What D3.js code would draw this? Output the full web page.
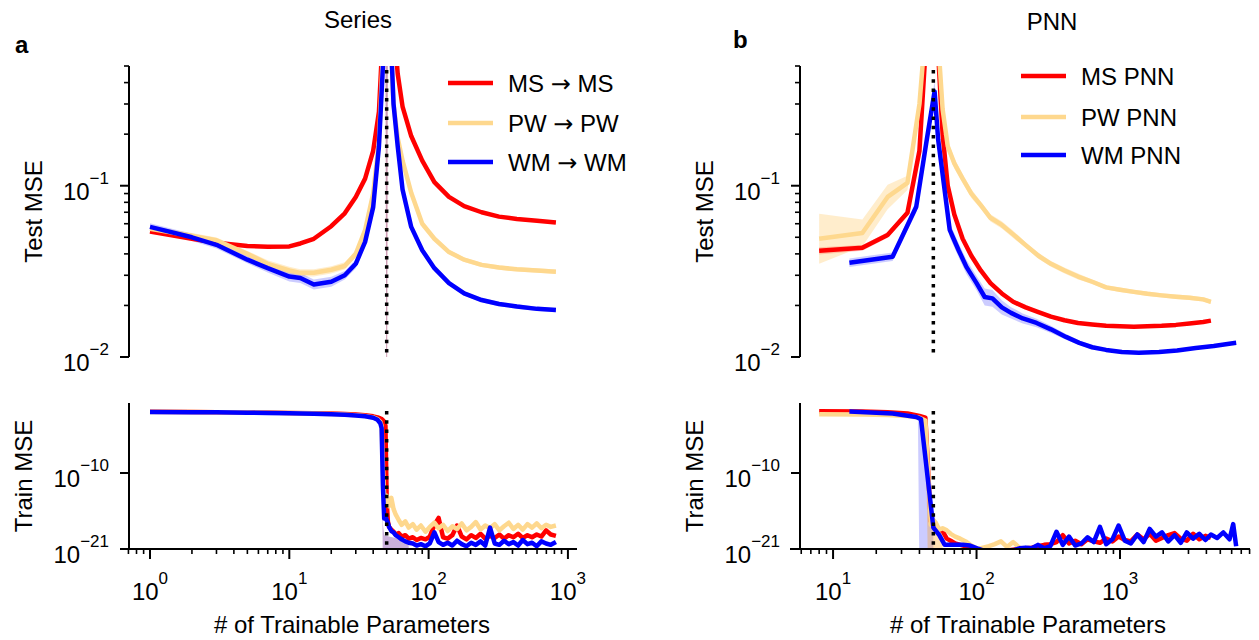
<!DOCTYPE html>
<html><head><meta charset="utf-8">
<script src="https://cdn.jsdelivr.net/npm/d3@7"></script>
<style>
body{margin:0;background:#fff}
svg{display:block}
text{font-family:"Liberation Sans",Arial,Helvetica,sans-serif;fill:#000}
</style>
</head><body>
<svg id="c" width="1259" height="640"></svg>
<script>
// ---------------- DATA ----------------
const colMS = "#ff0000", colPW = "#fed88e", colWM = "#0000ff";
const legendA = [["MS", "MS"], ["PW", "PW"], ["WM", "WM"]]; // "X → X"
const legendB = ["MS PNN", "PW PNN", "WM PNN"];
const titleA = "Series", titleB = "PNN";
const xTickExpA = [0, 1, 2, 3];
const xTickExpB = [1, 2, 3];
const yTestTickExp = [-1, -2];
const yTrainTickExp = [-10, -21];
const threshold = 50;

// Panel a, test MSE
const testXA = [1, 2, 3, 5, 7, 10, 12, 15, 20, 25, 30, 35, 40, 44, 47, 49, 50, 51, 53, 56, 60, 65, 75, 90, 110, 140, 180, 240, 320, 430, 600, 820];
const testMSA = [0.054, 0.049, 0.0465, 0.0445, 0.044, 0.0442, 0.046, 0.049, 0.058, 0.069, 0.086, 0.11, 0.16, 0.27, 0.8, 2.5, 6, 2.5, 1.5, 0.9, 0.45, 0.29, 0.195, 0.14, 0.105, 0.086, 0.076, 0.07, 0.066, 0.064, 0.0625, 0.061];
const testPWA = [0.056, 0.051, 0.048, 0.040, 0.035, 0.032, 0.031, 0.031, 0.0323, 0.034, 0.040, 0.055, 0.09, 0.18, 0.6, 2, 6, 2, 0.8, 0.3, 0.19, 0.14, 0.091, 0.06, 0.049, 0.041, 0.037, 0.0345, 0.0333, 0.0325, 0.032, 0.0315];
const testWMA = [0.0575, 0.050, 0.0452, 0.037, 0.033, 0.0295, 0.0289, 0.0265, 0.0275, 0.030, 0.035, 0.047, 0.075, 0.17, 0.5, 2, 6, 2, 0.9, 0.3, 0.17, 0.095, 0.0575, 0.042, 0.033, 0.027, 0.0235, 0.0215, 0.0204, 0.0197, 0.0191, 0.0188];
// multiplicative spread of the shaded band
const sprMSA = [1.02, 1.02, 1.02, 1.02, 1.02, 1.02, 1.02, 1.02, 1.02, 1.02, 1.02, 1.03, 1.04, 1.1, 1.3, 3, 10000, 3, 1.3, 1.1, 1.05, 1.03, 1.02, 1.02, 1.02, 1.02, 1.02, 1.02, 1.02, 1.02, 1.02, 1.02];
const sprPWA = [1.04, 1.04, 1.04, 1.04, 1.05, 1.05, 1.05, 1.05, 1.05, 1.05, 1.05, 1.06, 1.08, 1.1, 1.3, 3, 10000, 3, 1.3, 1.1, 1.06, 1.05, 1.04, 1.04, 1.03, 1.03, 1.03, 1.03, 1.03, 1.03, 1.03, 1.03];
const sprWMA = [1.05, 1.05, 1.05, 1.05, 1.06, 1.07, 1.07, 1.07, 1.07, 1.06, 1.06, 1.06, 1.08, 1.1, 1.3, 3, 10000, 3, 1.3, 1.1, 1.06, 1.05, 1.04, 1.04, 1.03, 1.03, 1.03, 1.03, 1.03, 1.03, 1.03, 1.03];

// Panel a, train MSE (log10 values)
const trainXA = [1, 2, 3, 5, 7, 10, 15, 20, 25, 30, 35, 40, 43, 45, 46, 47, 48, 49, 50, 51, 52, 54, 56, 58, 61, 64, 68, 72, 77, 82, 88, 95, 102, 110, 118, 127, 137, 148, 160, 173, 187, 202, 218, 236, 255, 276, 298, 322, 348, 376, 406, 439, 474, 512, 553, 597, 645, 697, 753, 820];
const trainMSA = [-1.15, -1.17, -1.2, -1.23, -1.26, -1.3, -1.35, -1.4, -1.47, -1.55, -1.65, -1.8, -1.95, -2.1, -2.2, -2.35, -2.6, -3.2, -14, -17.0, -17.8, -18.2, -18.5, -18.9, -18.7, -19.2, -19.0, -19.5, -19.3, -19.7, -19.4, -19.6, -19.2, -17.5, -16.5, -19.3, -19.5, -19.0, -17.6, -19.2, -19.6, -19.0, -19.4, -18.8, -19.5, -19.1, -19.4, -18.9, -19.5, -19.0, -19.3, -18.8, -19.4, -19.0, -19.3, -18.9, -19.2, -18.3, -18.9, -19.1];
const trainPWA = [-1.16, -1.19, -1.21, -1.25, -1.28, -1.33, -1.4, -1.47, -1.55, -1.64, -1.76, -1.95, -2.2, -2.6, -3.2, -9, -13.5, -14.5, -13.3, -13.8, -14.8, -13.6, -15.2, -16.0, -16.8, -17.5, -17.0, -17.9, -17.4, -18.2, -17.6, -18.5, -17.8, -17.2, -18.0, -17.5, -18.4, -17.7, -18.1, -17.3, -18.3, -17.8, -17.1, -18.2, -17.6, -18.0, -17.4, -18.3, -17.7, -17.2, -18.1, -17.5, -18.2, -17.4, -17.9, -17.3, -18.0, -17.5, -17.8, -17.6];
const trainWMA = [-1.17, -1.2, -1.22, -1.27, -1.3, -1.35, -1.42, -1.5, -1.58, -1.68, -1.8, -2.0, -2.3, -2.8, -3.5, -12, -16.6, -16.3, -16.8, -17.2, -17.8, -18.4, -18.6, -19.0, -19.3, -19.6, -19.9, -20.1, -20.2, -20.5, -20.3, -20.6, -20.2, -18.6, -20.0, -20.4, -20.1, -20.5, -19.8, -20.3, -20.6, -20.1, -20.4, -19.9, -20.5, -17.9, -20.2, -20.4, -19.8, -20.3, -20.0, -20.5, -19.7, -20.3, -20.1, -20.6, -19.9, -20.2, -20.4, -20.0];
const trainBandXA = [46, 47, 48, 52, 58, 64, 72];
const trainBandHiA = [-3.5, -17.5, -19.0, -19.2, -19.4, -19.6, -20.0];
const trainBandLoA = [-3.5, -25, -25, -25, -25, -25, -25];

// Panel b, test MSE
const testXB = [8, 16, 24, 33, 40, 44, 48, 51, 54, 58, 63, 70, 80, 92, 107, 125, 150, 180, 220, 270, 330, 410, 510, 640, 800, 1000, 1250, 1550, 1950, 2450, 3050, 3800, 4300];
const testMSB = [0.0417, 0.0434, 0.0516, 0.0695, 0.16, 0.6, 3, 3, 0.6, 0.2, 0.1, 0.068, 0.049, 0.039, 0.032, 0.027, 0.0235, 0.021, 0.0195, 0.0183, 0.0172, 0.0164, 0.0158, 0.0155, 0.0152, 0.0151, 0.015, 0.0151, 0.0152, 0.0154, 0.0157, 0.016, 0.0163];
const testPWB = [0.049, 0.053, 0.086, 0.104, 0.3, 0.8, 3, 2, 0.7, 0.28, 0.17, 0.135, 0.11, 0.09, 0.077, 0.065, 0.059, 0.052, 0.045, 0.039, 0.035, 0.032, 0.0295, 0.0275, 0.0255, 0.0247, 0.024, 0.0234, 0.0229, 0.0225, 0.0222, 0.0217, 0.021];
const sprMSB = [1.05, 1.04, 1.04, 1.04, 1.05, 1.1, 1.2, 1.2, 1.1, 1.05, 1.04, 1.03, 1.03, 1.03, 1.03, 1.03, 1.03, 1.03, 1.03, 1.02, 1.02, 1.02, 1.02, 1.02, 1.02, 1.02, 1.02, 1.02, 1.02, 1.02, 1.02, 1.02, 1.02];
const sprPWB = [1.4, 1.2, 1.18, 1.1, 1.1, 1.1, 1.2, 1.2, 1.1, 1.1, 1.08, 1.07, 1.06, 1.06, 1.05, 1.05, 1.05, 1.05, 1.04, 1.04, 1.04, 1.04, 1.04, 1.03, 1.03, 1.03, 1.03, 1.03, 1.03, 1.03, 1.03, 1.03, 1.03];
const testXWMB = [13, 26, 38, 45, 51, 54, 65, 75, 85, 100, 114, 129, 150, 174, 210, 262, 330, 420, 520, 640, 800, 1030, 1350, 1870, 2500, 3370, 4500, 6450];
const testWMB = [0.0355, 0.0385, 0.0754, 0.186, 0.355, 0.186, 0.0553, 0.042, 0.0336, 0.027, 0.0224, 0.022, 0.0195, 0.0181, 0.0168, 0.0158, 0.0145, 0.0131, 0.0121, 0.0114, 0.011, 0.0107, 0.0106, 0.0107, 0.0109, 0.0113, 0.0116, 0.0121];
const sprWMB = [1.06, 1.06, 1.08, 1.1, 1.15, 1.12, 1.1, 1.1, 1.1, 1.1, 1.12, 1.12, 1.1, 1.08, 1.07, 1.06, 1.05, 1.04, 1.03, 1.03, 1.02, 1.02, 1.02, 1.02, 1.02, 1.02, 1.02, 1.02];

// Panel b, train MSE (log10 values)
const trainXB = [8, 16, 24, 33, 40, 44, 48, 50, 52, 55, 58, 62, 66, 71, 77, 84, 92, 101, 111, 122, 134, 148, 163, 180, 199, 220, 243, 268, 296, 327, 361, 399, 441, 487, 538, 594, 656, 725, 801, 885, 978, 1080, 1190, 1320, 1460, 1610, 1780, 1960, 2170, 2400, 2650, 2920, 3230, 3570, 3940, 4300];
const trainMSB = [-1.06, -1.1, -1.2, -1.4, -1.75, -2.0, -17.0, -17.6, -17.9, -18.2, -18.4, -19.5, -19.8, -20.2, -20.4, -20.6, -20.8, -21.0, -21.2, -21.3, -21.3, -21.3, -21.2, -21.1, -21.0, -20.9, -20.8, -20.6, -20.4, -20.3, -20.0, -19.0, -20.2, -19.8, -20.3, -19.6, -19.9, -20.1, -19.5, -19.9, -19.2, -19.7, -19.9, -18.9, -19.6, -18.8, -19.8, -19.4, -19.0, -18.7, -19.5, -19.8, -18.8, -19.6, -19.1, -19.4];
const trainPWB = [-1.5, -1.52, -1.6, -1.75, -2.0, -2.4, -17.5, -16.8, -17.2, -18.2, -18.0, -18.3, -18.8, -19.2, -19.5, -19.9, -20.5, -21.0, -20.8, -20.6, -20.3, -19.9, -20.7, -20.0, -20.8, -21.1, -21.2, -21.2, -21.3, -21.3, -21.2, -21.3, -21.2, -21.3, -21.2, -21.3, -21.2, -21.3, -21.3, -21.2, -21.3, -21.2, -21.3, -21.3, -21.2, -21.3, -21.2, -21.3, -21.3, -21.2, -21.3, -21.2, -21.3, -21.3, -21.2, -21.3];
const trainXWMB = [13, 26, 38, 41, 50, 55, 60, 66, 72, 80, 90, 101, 111, 122, 134, 148, 163, 180, 199, 220, 243, 268, 296, 327, 361, 399, 441, 487, 538, 594, 656, 725, 801, 885, 978, 1080, 1190, 1320, 1460, 1610, 1780, 1960, 2170, 2400, 2650, 2920, 3230, 3570, 3940, 4300, 4750, 5250, 5800, 6150, 6450];
const trainWMB = [-1.1, -1.4, -1.9, -2.2, -17.9, -19.0, -20.4, -20.4, -20.4, -20.4, -20.5, -20.9, -21.2, -21.3, -21.3, -21.4, -21.3, -21.2, -20.9, -20.8, -20.9, -20.4, -20.9, -20.6, -18.5, -20.4, -19.2, -20.5, -20.2, -19.3, -20.0, -17.8, -20.3, -19.6, -17.6, -19.8, -20.2, -18.9, -20.0, -18.1, -19.2, -18.6, -19.9, -19.0, -20.1, -18.6, -19.5, -18.8, -19.7, -18.9, -19.4, -18.6, -19.6, -17.4, -20.6];
const bandWMXB = [39, 40, 44, 46, 48, 50];
const bandWMLoB = [-1.9, -25, -25, -25, -25, -25];
const bandWMHiB = [-1.9, -2.0, -7.8, -10.5, -14.3, -17.9];
const bandPWXB = [44, 46, 48, 50, 52, 55, 58];
const bandPWLoB = [-2.4, -25, -25, -25, -25, -25, -25];
const bandPWHiB = [-2.4, -12, -17.5, -16.8, -17.2, -18.2, -18.0];

// ---------------- DRAWING ----------------
const svg = d3.select("#c");
const defs = svg.append("defs");

const xA = d3.scaleLog().domain([0.609, 1162]).range([120, 577]);
const xB = d3.scaleLog().domain([5.01, 8054]).range([790, 1250]);
const yTest = d3.scaleLog().domain([0.01, 0.5]).range([357, 66]);
const yTrain = d3.scaleLog().domain([1e-21, 1.35]).range([549, 403]);
const spineA = 129, spineB = 800;
const LW = 4.5;

function clip(id, x, y, w, h) {
  defs.append("clipPath").attr("id", id).append("rect").attr("x", x).attr("y", y).attr("width", w).attr("height", h);
  return svg.append("g").attr("clip-path", `url(#${id})`);
}

function band(g, x, y, xs, lo, hi, color, op) {
  const pts = xs.map((d, i) => ({x: d, lo: lo[i], hi: hi[i]}));
  g.append("path").datum(pts)
    .attr("d", d3.area().x(d => x(d.x)).y0(d => y(d.lo)).y1(d => y(d.hi)))
    .attr("fill", color).attr("fill-opacity", op).attr("stroke", "none");
}
function line(g, x, y, xs, vs, color, w) {
  const pts = xs.map((d, i) => ({x: d, v: vs[i]}));
  g.append("path").datum(pts)
    .attr("d", d3.line().defined(d => d.v != null).x(d => x(d.x)).y(d => y(d.v)))
    .attr("fill", "none").attr("stroke", color).attr("stroke-width", w)
    .attr("stroke-linejoin", "round").attr("stroke-linecap", "butt");
}
const p10 = a => a.map(e => Math.pow(10, e));
const div = (v, s) => v.map((d, i) => d / s[i]);
const mul = (v, s) => v.map((d, i) => d * s[i]);

function supLabel(g, x, y, exp, anchor) {
  const t = g.append("text").attr("x", x).attr("y", y).attr("text-anchor", anchor)
    .style("font-size", "24px");
  t.append("tspan").text("10");
  t.append("tspan").attr("dy", -16).style("font-size", "17px")
    .text(exp < 0 ? "\u2212" + Math.abs(exp) : String(exp));
}

function yAxis(scale, xs, majorsExp, minors) {
  const g = svg.append("g");
  const [r0, r1] = scale.range();
  g.append("line").attr("x1", xs).attr("x2", xs).attr("y1", r0).attr("y2", r1)
    .attr("stroke", "#000").attr("stroke-width", 2);
  majorsExp.forEach(e => {
    const yy = scale(Math.pow(10, e));
    g.append("line").attr("x1", xs - 9).attr("x2", xs).attr("y1", yy).attr("y2", yy)
      .attr("stroke", "#000").attr("stroke-width", 2);
    supLabel(g, xs - 20, yy + 14, e, "end");
  });
  minors.forEach(v => {
    const yy = scale(v);
    g.append("line").attr("x1", xs - 5).attr("x2", xs).attr("y1", yy).attr("y2", yy)
      .attr("stroke", "#000").attr("stroke-width", 1.6);
  });
}
function xAxis(scale, yy, majorsExp) {
  const g = svg.append("g");
  const [r0, r1] = scale.range();
  const [d0, d1] = scale.domain();
  g.append("line").attr("x1", r0).attr("x2", r1).attr("y1", yy).attr("y2", yy)
    .attr("stroke", "#000").attr("stroke-width", 2);
  majorsExp.forEach(e => {
    const xx = scale(Math.pow(10, e));
    g.append("line").attr("x1", xx).attr("x2", xx).attr("y1", yy).attr("y2", yy + 10)
      .attr("stroke", "#000").attr("stroke-width", 2);
    supLabel(g, xx, 600, e, "middle");
  });
  for (let d = -1; d <= 4; d++) for (let k = 2; k <= 9; k++) {
    const v = k * Math.pow(10, d);
    if (v <= d0 || v >= d1) continue;
    const xx = scale(v);
    g.append("line").attr("x1", xx).attr("x2", xx).attr("y1", yy).attr("y2", yy + 5)
      .attr("stroke", "#000").attr("stroke-width", 1.6);
  }
}
function dotted(x, y0, y1) {
  svg.append("line").attr("x1", x).attr("x2", x).attr("y1", y0).attr("y2", y1)
    .attr("stroke", "#000").attr("stroke-width", 3.5).attr("stroke-dasharray", "3.5,5.8");
}

const testMinors = [0.02, 0.03, 0.04, 0.05, 0.06, 0.07, 0.08, 0.09, 0.2, 0.3, 0.4, 0.5];

// ---- panel a top ----
{
  const g = clip("ca1", 120, 66, 457, 291);
  band(g, xA, yTest, testXA, div(testMSA, sprMSA), mul(testMSA, sprMSA), colMS, 0.2);
  band(g, xA, yTest, testXA, div(testPWA, sprPWA), mul(testPWA, sprPWA), "#ffa500", 0.2);
  band(g, xA, yTest, testXA, div(testWMA, sprWMA), mul(testWMA, sprWMA), colWM, 0.2);
  line(g, xA, yTest, testXA, testMSA, colMS, LW);
  line(g, xA, yTest, testXA, testPWA, colPW, LW);
  line(g, xA, yTest, testXA, testWMA, colWM, LW);
  yAxis(yTest, spineA, yTestTickExp, testMinors);
  dotted(xA(threshold), 70, 357);
}
// ---- panel a bottom ----
{
  const g = clip("ca2", 120, 403, 457, 146);
  band(g, xA, yTrain, trainBandXA, p10(trainBandLoA), p10(trainBandHiA), "#8a4fb0", 0.45);
  line(g, xA, yTrain, trainXA, p10(trainMSA), colMS, LW);
  line(g, xA, yTrain, trainXA, p10(trainPWA), colPW, LW);
  line(g, xA, yTrain, trainXA, p10(trainWMA), colWM, LW);
  yAxis(yTrain, spineA, yTrainTickExp, []);
  xAxis(xA, 549, xTickExpA);
  dotted(xA(threshold), 411, 549);
}
// ---- panel b top ----
{
  const g = clip("cb1", 790, 66, 460, 291);
  band(g, xB, yTest, testXB, div(testMSB, sprMSB), mul(testMSB, sprMSB), colMS, 0.2);
  band(g, xB, yTest, testXB, div(testPWB, sprPWB), mul(testPWB, sprPWB), "#ffa500", 0.2);
  band(g, xB, yTest, testXWMB, div(testWMB, sprWMB), mul(testWMB, sprWMB), colWM, 0.2);
  line(g, xB, yTest, testXB, testMSB, colMS, LW);
  line(g, xB, yTest, testXB, testPWB, colPW, LW);
  line(g, xB, yTest, testXWMB, testWMB, colWM, LW);
  yAxis(yTest, spineB, yTestTickExp, testMinors);
  dotted(xB(threshold), 70, 357);
}
// ---- panel b bottom ----
{
  const g = clip("cb2", 790, 403, 460, 146);
  band(g, xB, yTrain, bandWMXB, p10(bandWMLoB), p10(bandWMHiB), colWM, 0.2);
  band(g, xB, yTrain, bandPWXB, p10(bandPWLoB), p10(bandPWHiB), "#ff9a00", 0.3);
  line(g, xB, yTrain, trainXB, p10(trainMSB), colMS, LW);
  line(g, xB, yTrain, trainXB, p10(trainPWB), colPW, LW);
  line(g, xB, yTrain, trainXWMB, p10(trainWMB), colWM, LW);
  yAxis(yTrain, spineB, yTrainTickExp, []);
  xAxis(xB, 549, xTickExpB);
  dotted(xB(threshold), 411, 549);
}

// ---- texts ----
function txt(x, y, s, opts = {}) {
  const t = svg.append("text").attr("x", x).attr("y", y).text(s)
    .attr("text-anchor", opts.anchor || "middle").style("font-size", (opts.size || 24) + "px");
  if (opts.bold) t.style("font-weight", "bold");
  if (opts.rot) t.attr("transform", `rotate(-90,${x},${y})`);
  return t;
}
txt(358, 28, titleA);
txt(1052, 30, titleB);
txt(15, 53, "a", {anchor: "start", bold: true});
txt(733, 48, "b", {anchor: "start", bold: true});
txt(42, 211.5, "Test MSE", {rot: true});
txt(32, 476, "Train MSE", {rot: true});
txt(713, 211.5, "Test MSE", {rot: true});
txt(703, 476, "Train MSE", {rot: true});
txt(352, 633, "# of Trainable Parameters");
txt(1028, 633, "# of Trainable Parameters");

// ---- legends ----
const cols = [colMS, colPW, colWM];
function legendLine(x0, y, c) {
  svg.append("line").attr("x1", x0).attr("x2", x0 + 45).attr("y1", y).attr("y2", y)
    .attr("stroke", c).attr("stroke-width", 4.5);
}
[83, 123, 162].forEach((y, i) => {
  legendLine(448, y, cols[i]);
  const t = svg.append("text").attr("x", 508).attr("y", y + 8.5).style("font-size", "24px");
  t.append("tspan").text(legendA[i][0] + " ");
  t.append("tspan").style("font-family", '"DejaVu Sans", sans-serif').style("font-size", "24px").text("\u2192");
  t.append("tspan").text(" " + legendA[i][1]);
});
[76, 117, 155].forEach((y, i) => {
  legendLine(1021, y, cols[i]);
  txt(1081, y + 8.5, legendB[i], {anchor: "start"});
});
</script>
</body></html>
